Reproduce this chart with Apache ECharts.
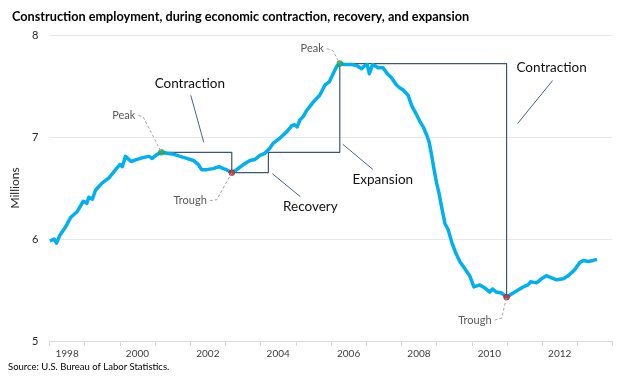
<!DOCTYPE html>
<html><head><meta charset="utf-8">
<script src="https://cdn.jsdelivr.net/npm/echarts@6/dist/echarts.min.js"></script>
<style>html,body{margin:0;padding:0;background:#fff}#c{width:620px;height:380px}</style>
</head><body><div id="c"></div>
<script>
// Dates in decimal years, employment in millions
const dates = [
  1998.01,1998.13,1998.20,1998.30,1998.46,1998.60,1998.79,1998.96,1999.06,1999.12,1999.22,1999.31,1999.50,1999.69,1999.88,2000.00,2000.07,2000.16,2000.32,2000.49,2000.68,2000.83,2000.92,2001.06,2001.18,
  2001.34,2001.54,2001.71,2001.90,2002.09,2002.23,2002.32,2002.47,2002.65,2002.82,2002.94,2003.03,2003.18,
  2003.32,2003.51,2003.70,2003.84,2003.98,2004.12,2004.26,2004.36,2004.55,2004.74,2004.88,2004.97,2005.04,2005.12,2005.21,2005.31,2005.49,2005.68,2005.83,2005.95,2006.06,2006.16,2006.25,
  2006.39,2006.59,2006.73,2006.87,2006.96,2007.03,2007.09,2007.18,2007.34,2007.48,2007.60,2007.72,2007.86,2007.96,
  2008.05,2008.19,2008.29,2008.43,2008.53,2008.62,2008.72,2008.79,2008.86,2008.93,
  2009.00,2009.07,2009.14,2009.24,2009.33,2009.43,2009.55,2009.66,2009.80,2009.94,
  2010.06,2010.23,2010.37,2010.51,2010.59,2010.70,2010.85,2010.99,
  2011.13,2011.27,2011.46,2011.60,2011.67,2011.84,2011.98,2012.12,2012.27,2012.41,2012.60,2012.74,2012.93,2013.07,2013.18,2013.31,2013.45,2013.56
];
const employment = [
  5.98,6.00,5.96,6.04,6.12,6.21,6.27,6.37,6.35,6.41,6.39,6.48,6.55,6.60,6.68,6.73,6.71,6.81,6.76,6.78,6.80,6.81,6.79,6.83,6.85,
  6.84,6.83,6.81,6.79,6.77,6.73,6.68,6.68,6.69,6.71,6.69,6.68,6.65,
  6.68,6.73,6.77,6.78,6.82,6.84,6.89,6.94,6.99,7.05,7.11,7.12,7.10,7.17,7.20,7.26,7.34,7.41,7.51,7.54,7.62,7.69,7.72,
  7.71,7.71,7.70,7.67,7.70,7.71,7.62,7.71,7.68,7.68,7.62,7.58,7.51,7.48,
  7.46,7.41,7.31,7.22,7.15,7.10,7.02,6.95,6.82,6.68,
  6.55,6.45,6.32,6.15,6.09,5.97,5.86,5.78,5.71,5.64,
  5.53,5.55,5.52,5.48,5.51,5.48,5.47,5.43,
  5.46,5.49,5.53,5.55,5.58,5.57,5.61,5.64,5.62,5.60,5.61,5.64,5.70,5.77,5.79,5.78,5.79,5.80
];
const peakDates = [2001.18, 2006.25];
const troughDates = [2003.18, 2010.99];
const recoveryEnd = 2004.22; // month employment regained the 2001 peak level
const yearLabels = ['1998','1999','2000','2001','2002','2003','2004','2005','2006','2007','2008','2009','2010','2011','2012','2013'];
const yTicks = [5, 6, 7, 8];

const FONT = 'Lato, "Noto Sans", sans-serif';
const valueAt = d => employment[dates.indexOf(d)];
const P1 = [peakDates[0], valueAt(peakDates[0])];
const T1 = [troughDates[0], valueAt(troughDates[0])];
const P2 = [peakDates[1], valueAt(peakDates[1])];
const T2 = [troughDates[1], valueAt(troughDates[1])];
const boxPath = [P1, [T1[0], P1[1]], T1, [recoveryEnd, T1[1]], [recoveryEnd, P1[1]], [P2[0], P1[1]], P2, [T2[0], P2[1]], T2];

const chart = echarts.init(document.getElementById('c'));
chart.setOption({
  animation: false,
  backgroundColor: '#fff',
  title: {
    text: 'Construction employment, during economic contraction, recovery, and expansion',
    left: 7, top: 5,
    textStyle: { fontFamily: FONT, fontSize: 12.7, fontWeight: 'bold', color: '#000' }
  },
  grid: { left: 49.5, right: 7.5, top: 35, bottom: 39 },
  xAxis: [{
    type: 'value', position: 'bottom', min: 1998, max: 2014, interval: 1,
    axisLine: { show: true, lineStyle: { color: '#d9d9d9', width: 1 } },
    axisTick: { show: true, length: 5, lineStyle: { color: '#d9d9d9' } },
    axisLabel: { show: false }, splitLine: { show: false }
  }, {
    type: 'category', position: 'bottom', data: yearLabels, boundaryGap: true,
    axisLine: { show: false }, axisTick: { show: false }, splitLine: { show: false },
    axisLabel: { interval: 1, margin: 8, fontFamily: FONT, fontSize: 10, color: '#404040' }
  }],
  yAxis: {
    type: 'value', min: yTicks[0], max: yTicks[yTicks.length - 1], interval: 1,
    name: 'Millions', nameLocation: 'middle', nameGap: 24, nameRotate: 90,
    nameTextStyle: { fontFamily: FONT, fontSize: 12, color: '#262626' },
    axisLine: { show: false }, axisTick: { show: false },
    axisLabel: { margin: 11, fontFamily: FONT, fontSize: 11, color: '#262626' },
    splitLine: { lineStyle: { color: '#e8e8e8', width: 1 } }
  },
  series: [{
    type: 'line', name: 'Employment', xAxisIndex: 0,
    data: dates.map((d, i) => [d, employment[i]]),
    showSymbol: false, z: 3,
    lineStyle: { color: '#00b0f0', width: 3.5, join: 'round' }
  }, {
    type: 'line', name: 'Phases', xAxisIndex: 0, data: boxPath,
    showSymbol: false, z: 2, silent: true,
    lineStyle: { color: '#3e5576', width: 1.2 }
  }, {
    type: 'scatter', xAxisIndex: 0, z: 4, symbolSize: 6,
    data: [P1, P2],
    itemStyle: { color: '#2fb04f', borderColor: '#1d7a35', borderWidth: 0.5 }
  }, {
    type: 'scatter', xAxisIndex: 0, z: 4, symbolSize: 6,
    data: [T1, T2],
    itemStyle: { color: '#d9262a', borderColor: '#8a1010', borderWidth: 0.5 }
  }]
});

const px = p => chart.convertToPixel({ seriesIndex: 0 }, p);
const g = [];
function text(t, x, y, size, color, align) {
  g.push({ type: 'text', x, y, z: 10, style: { text: t, fontFamily: FONT, fontSize: size, fill: color, align: align || 'center', verticalAlign: 'middle' } });
}
function line(points, color, dash) {
  g.push({ type: 'polyline', z: 9, shape: { points }, style: { stroke: color, lineWidth: 1, fill: null, lineDash: dash || null } });
}
const GRAY = '#a6a6a6';
// Peak / trough callouts
let p = px(P1);
text('Peak', p[0] - 26, p[1] - 37, 11, '#595959', 'right');
line([[p[0] - 23, p[1] - 37], [p[0] - 18, p[1] - 35], p], GRAY, [3, 2]);
p = px(T1);
text('Trough', p[0] - 25, p[1] + 28, 11, '#595959', 'right');
line([[p[0] - 22, p[1] + 28], [p[0] - 15, p[1] + 27], p], GRAY, [3, 2]);
p = px(P2);
text('Peak', p[0] - 16, p[1] - 15, 11, '#595959', 'right');
line([[p[0] - 13, p[1] - 15], [p[0] - 7, p[1] - 13], p], GRAY, [3, 2]);
p = px(T2);
text('Trough', p[0] - 15, p[1] + 23, 11, '#595959', 'right');
line([[p[0] - 12, p[1] + 23], [p[0] - 5, p[1] + 21], p], GRAY, [3, 2]);
// Phase labels
const LC = '#4a6488';
let a = px([T1[0], P1[1]]);
text('Contraction', a[0] - 42, a[1] - 69, 13.5, '#111');
line([[a[0] - 41, a[1] - 57], [a[0] - 28, a[1] - 10]], LC);
a = px([recoveryEnd, T1[1]]);
text('Recovery', a[0] + 42, a[1] + 34, 13.5, '#111');
line([[a[0] + 4, a[1] + 1], [a[0] + 32, a[1] + 24]], LC);
a = px([P2[0], P1[1]]);
text('Expansion', a[0] + 43, a[1] + 27, 13.5, '#111');
line([[a[0] + 3, a[1] - 8], [a[0] + 33, a[1] + 17]], LC);
a = px([T2[0], P2[1]]);
text('Contraction', a[0] + 45, a[1] + 4, 13.5, '#111');
line([[a[0] + 46, a[1] + 17], [a[0] + 11, a[1] + 60]], LC);
// Source
g.push({ type: 'text', left: 8, top: 362, style: { text: 'Source: U.S. Bureau of Labor Statistics.', fontFamily: FONT, fontSize: 9.5, fill: '#000' } });
chart.setOption({ graphic: g });
</script>
</body></html>
